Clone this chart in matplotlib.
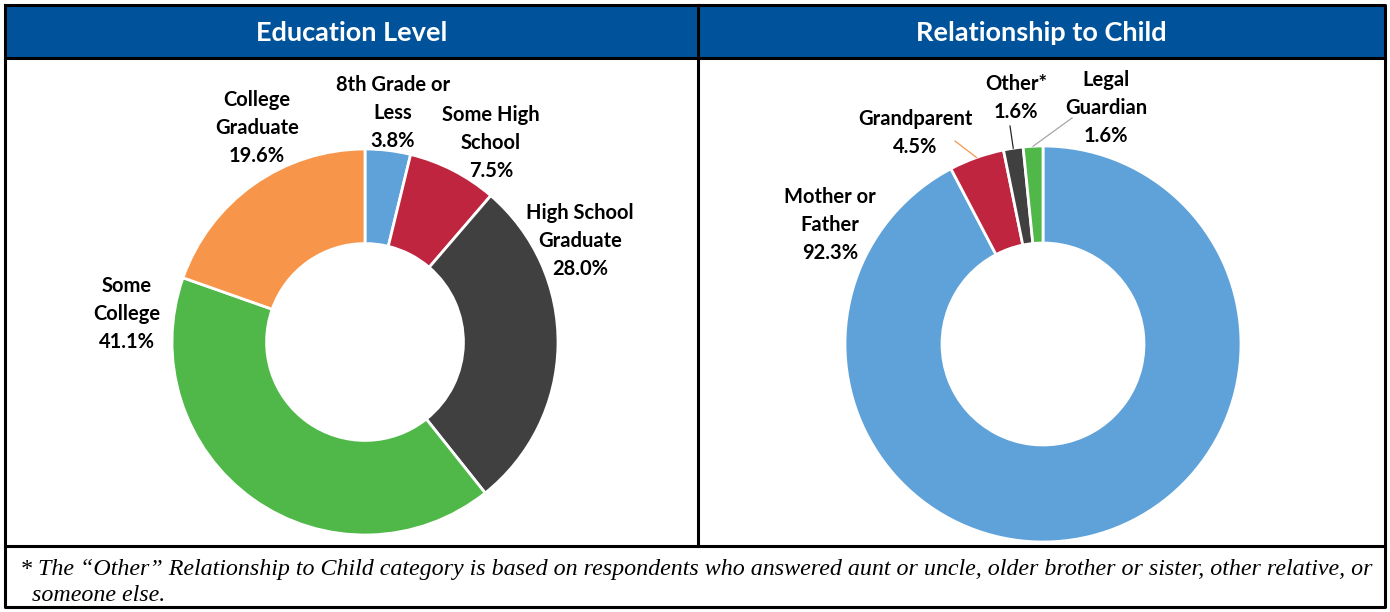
import numpy as np
import matplotlib.pyplot as plt
from matplotlib.patches import Rectangle

# data
edu_labels = ['8th Grade or\nLess', 'Some High\nSchool', 'High School\nGraduate',
              'Some\nCollege', 'College\nGraduate']
edu_values = [3.8, 7.5, 28.0, 41.1, 19.6]
edu_colors = ['#5FA2D9', '#C0253F', '#404040', '#50B848', '#F7964A']

rel_labels = ['Mother or\nFather', 'Grandparent', 'Other*', 'Legal\nGuardian']
rel_values = [92.3, 4.5, 1.6, 1.6]
rel_colors = ['#5FA2D9', '#C0253F', '#404040', '#50B848']

W, H = 1390, 612
LABEL_FONT = 'Lato'
fig = plt.figure(figsize=(W / 100, H / 100), dpi=100)


def pie_axes(cx, cy, r):
    ax = fig.add_axes([(cx - r) / W, (H - cy - r) / H, 2 * r / W, 2 * r / H], zorder=1)
    return ax


def donut(ax, values, colors):
    wedges, _ = ax.pie(values, colors=colors, startangle=90, counterclock=False,
                       radius=1.0, wedgeprops=dict(width=0.49, edgecolor='white', linewidth=2))
    ax.set_xlim(-1, 1)
    ax.set_ylim(-1, 1)
    ax.axis('off')
    return wedges


ax1 = pie_axes(365, 342, 193)
w1 = donut(ax1, edu_values, edu_colors)
ax2 = pie_axes(1043, 344, 198)
w2 = donut(ax2, rel_values, rel_colors)

# overlay in pixel coordinates
ov = fig.add_axes([0, 0, 1, 1], zorder=3)
ov.set_xlim(0, W)
ov.set_ylim(H, 0)
ov.axis('off')
ov.patch.set_alpha(0)

ov.add_patch(Rectangle((5, 5), W - 10, 53, facecolor='#00539B', edgecolor='none'))
lw = 2.2
ov.plot([5, W - 5, W - 5, 5, 5], [5, 5, 607, 607, 5], color='black', lw=lw)
ov.plot([5, W - 5], [58, 58], color='black', lw=lw)
ov.plot([5, W - 5], [546, 546], color='black', lw=lw)
ov.plot([698, 698], [5, 546], color='black', lw=lw)

ov.text(352, 33, 'Education Level', color='white', fontsize=19.5, fontweight='bold',
        family=LABEL_FONT, ha='center', va='center')
ov.text(1041, 33, 'Relationship to Child', color='white', fontsize=19.5, fontweight='bold',
        family=LABEL_FONT, ha='center', va='center')

edu_pos = [(393, 113), (491, 143), (580, 241), (127, 314), (257, 128)]
for lab, val, (x, y) in zip(edu_labels, edu_values, edu_pos):
    ov.text(x, y, f'{lab}\n{val:.1f}%', ha='center', va='center', fontsize=14.5,
            fontweight='bold', family=LABEL_FONT, linespacing=1.5)

rel_pos = [(830, 225), (915, 133), (1016, 98), (1106, 108)]
for lab, val, (x, y) in zip(rel_labels, rel_values, rel_pos):
    ov.text(x, y, f'{lab}\n{val:.1f}%', ha='center', va='center', fontsize=14.5,
            fontweight='bold', family=LABEL_FONT, linespacing=1.5)

# leader lines for the small slices
lead = [(1, (955, 141), '#F7964A'), (2, (1010, 126), '#262626'), (3, (1072, 118), '#A6A6A6')]
for i, start, col in lead:
    w = w2[i]
    ang = np.deg2rad((w.theta1 + w.theta2) / 2)
    end = ov.transData.inverted().transform(ax2.transData.transform((np.cos(ang), np.sin(ang))))
    ov.plot([start[0], end[0]], [start[1], end[1]], color=col, lw=0.9)

ov.text(20, 582.5, '* The \u201cOther\u201d Relationship to Child category is based on respondents who answered '
        'aunt or uncle, older brother or sister, other relative, or\n  someone else.',
        family='Liberation Serif', style='italic', fontsize=17.3, ha='left', va='center',
        linespacing=1.3)

fig.savefig('out.png', dpi=100)
